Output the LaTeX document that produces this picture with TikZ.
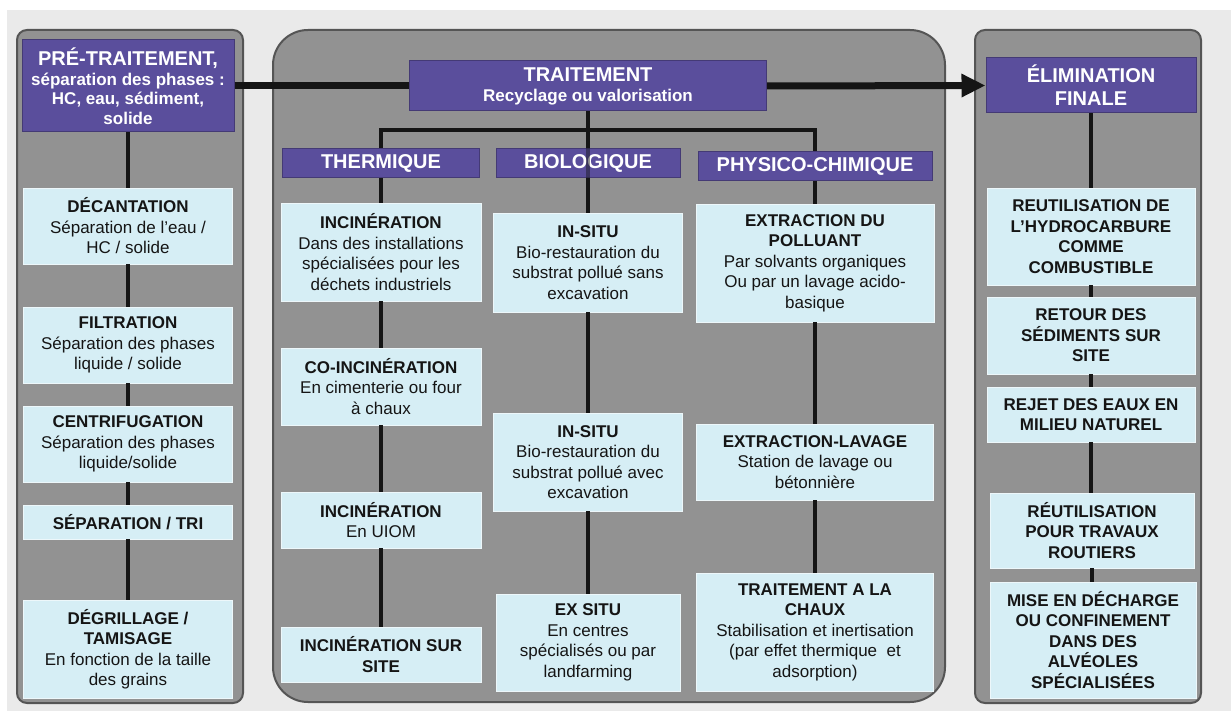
\documentclass[tikz,border=0pt]{standalone}
\usepackage{fontspec}
\setmainfont{Liberation Sans}
\usetikzlibrary{arrows.meta}
\definecolor{bgc}{HTML}{EAEAEA}
\definecolor{panelc}{HTML}{929292}
\definecolor{paneledge}{HTML}{555555}
\definecolor{purp}{HTML}{5A4E9C}
\definecolor{boxc}{HTML}{D6EEF5}
\definecolor{ink}{HTML}{151515}
\begin{document}
\begin{tikzpicture}[x=1pt,y=-1pt,
 panel/.style={fill=panelc, draw=paneledge, line width=2pt},
 hdr/.style={fill=purp, draw=purp!75!black, line width=1pt, text=white, font=\bfseries\fontsize{17}{19.5}\selectfont, align=center, inner sep=0pt},
 subh/.style={hdr, font=\bfseries\fontsize{20}{23}\selectfont},
 lbox/.style={fill=boxc, draw=white!55!boxc, line width=0.8pt, text=ink, align=center, inner sep=0pt, font=\fontsize{17}{20.5}\selectfont},
 wh/.style 2 args={minimum width=#1pt, minimum height=#2pt},
 conn/.style={draw=ink, line width=4.5pt},
 mainln/.style={draw=ink, line width=7pt},
]
\useasboundingbox (0,0) rectangle (1231,711);
\fill[white] (0,0) rectangle (1231,711);
\fill[bgc] (7,10) rectangle (1231,711);

% panels
\draw[panel, rounded corners=10pt] (17,30) rectangle (243,703);
\draw[panel, rounded corners=35pt] (273,30) rectangle (945,702);
\draw[panel, rounded corners=10pt] (975,30) rectangle (1201,703);

% left column
\node[hdr, wh={212}{92}] (pre) at (128,86) {{\fontsize{20}{23}\selectfont PRÉ-TRAITEMENT,}\\séparation des phases :\\HC, eau, sédiment,\\solide};
\node[lbox, wh={209}{76}] (decant) at (128,226) {\textbf{DÉCANTATION}\\Séparation de l'eau /\\HC / solide};
\node[lbox, wh={209}{76}] (filt) at (128,345) {\textbf{FILTRATION}\\Séparation des phases\\liquide / solide};
\node[lbox, wh={209}{76}] (centri) at (128,444) {\textbf{CENTRIFUGATION}\\Séparation des phases\\liquide/solide};
\node[lbox, wh={209}{34}] (septri) at (128,522) {\textbf{SÉPARATION / TRI}};
\node[lbox, wh={209}{98}] (degr) at (128,649) {\textbf{DÉGRILLAGE /}\\\textbf{TAMISAGE}\\En fonction de la taille\\des grains};

% middle column headers
\node[subh, wh={357}{50}, font=\bfseries\fontsize{17}{20}\selectfont] (trait) at (588,86) {{\fontsize{20}{23}\selectfont TRAITEMENT}\\Recyclage ou valorisation};
\node[subh, wh={197}{29}] (thermh) at (381,163.5) {THERMIQUE};
\node[subh, wh={184}{29}] (bioh) at (588,163.5) {BIOLOGIQUE};
\node[subh, wh={234}{29}] (physh) at (815,166.5) {PHYSICO-CHIMIQUE};

% thermique
\node[lbox, wh={200}{98}] (inc1) at (381,252) {\textbf{INCINÉRATION}\\Dans des installations\\spécialisées pour les\\déchets industriels};
\node[lbox, wh={200}{77}] (coinc) at (381,386.5) {\textbf{CO-INCINÉRATION}\\En cimenterie ou four\\à chaux};
\node[lbox, wh={200}{56}] (uiom) at (381,520) {\textbf{INCINÉRATION}\\En UIOM};
\node[lbox, wh={200}{55}] (site) at (381,654.5) {\textbf{INCINÉRATION SUR}\\\textbf{SITE}};

% biologique
\node[lbox, wh={189}{99}] (insitu1) at (588,262.5) {\textbf{IN-SITU}\\Bio-restauration du\\substrat pollué sans\\excavation};
\node[lbox, wh={189}{98}] (insitu2) at (588,462) {\textbf{IN-SITU}\\Bio-restauration du\\substrat pollué avec\\excavation};
\node[lbox, wh={184}{97}] (exsitu) at (588,642.5) {\textbf{EX SITU}\\En centres\\spécialisés ou par\\landfarming};

% physico-chimique
\node[lbox, wh={238}{118}] (extr) at (815,263) {\textbf{EXTRACTION DU}\\\textbf{POLLUANT}\\Par solvants organiques\\Ou par un lavage acido-\\basique};
\node[lbox, wh={237}{76}] (lav) at (815,462) {\textbf{EXTRACTION-LAVAGE}\\Station de lavage ou\\bétonnière};
\node[lbox, wh={237}{118}] (chaux) at (815,632) {\textbf{TRAITEMENT A LA}\\\textbf{CHAUX}\\Stabilisation et inertisation\\(par effet thermique \ et\\adsorption)};

% right column
\node[subh, wh={210}{55}] (elim) at (1091,85.5) {ÉLIMINATION\\FINALE};
\node[lbox, wh={208}{97}, font=\bfseries\fontsize{17}{20.5}\selectfont] (reut) at (1091,236.5) {REUTILISATION DE\\L'HYDROCARBURE\\COMME\\COMBUSTIBLE};
\node[lbox, wh={208}{77}, font=\bfseries\fontsize{17}{20.5}\selectfont] (retour) at (1091,335.5) {RETOUR DES\\SÉDIMENTS SUR\\SITE};
\node[lbox, wh={208}{55}, font=\bfseries\fontsize{17}{20.5}\selectfont] (rejet) at (1091,414.5) {REJET DES EAUX EN\\MILIEU NATUREL};
\node[lbox, wh={204}{75}, font=\bfseries\fontsize{17}{20.5}\selectfont] (routier) at (1092,530.5) {RÉUTILISATION\\POUR TRAVAUX\\ROUTIERS};
\node[lbox, wh={206}{116}, font=\bfseries\fontsize{17}{20.5}\selectfont] (mise) at (1093,640) {MISE EN DÉCHARGE\\OU CONFINEMENT\\DANS DES\\ALVÉOLES\\SPÉCIALISÉES};

% main flow
\draw[mainln] (pre.east) -- (trait.west);
\draw[mainln, -{Triangle[length=24pt,width=22pt]}] (trait.east) -- (elim.west);

% tree
\coordinate (tl) at (381,130);
\draw[conn] (trait.south) -- (bioh.north);
\draw[conn] (thermh.north) -- (tl) -| (physh.north);
\draw[conn, opacity=0.45] (bioh.north) -- (bioh.south);

% column connectors
\draw[conn] (pre.south) -- (decant.north);
\draw[conn] (decant.south) -- (filt.north);
\draw[conn] (filt.south) -- (centri.north);
\draw[conn] (centri.south) -- (septri.north);
\draw[conn] (septri.south) -- (degr.north);

\draw[conn] (thermh.south) -- (inc1.north);
\draw[conn] (inc1.south) -- (coinc.north);
\draw[conn] (coinc.south) -- (uiom.north);
\draw[conn] (uiom.south) -- (site.north);

\draw[conn] (bioh.south) -- (insitu1.north);
\draw[conn] (insitu1.south) -- (insitu2.north);
\draw[conn] (insitu2.south) -- (exsitu.north);

\draw[conn] (physh.south) -- (extr.north);
\draw[conn] (extr.south) -- (lav.north);
\draw[conn] (lav.south) -- (chaux.north);

\draw[conn] (elim.south) -- (reut.north);
\draw[conn] (reut.south) -- (retour.north);
\draw[conn] (retour.south) -- (rejet.north);
\draw[conn] (rejet.south) -- (rejet.south |- routier.north);
\draw[conn] (routier.south) -- (routier.south |- mise.north);
\end{tikzpicture}
\end{document}
